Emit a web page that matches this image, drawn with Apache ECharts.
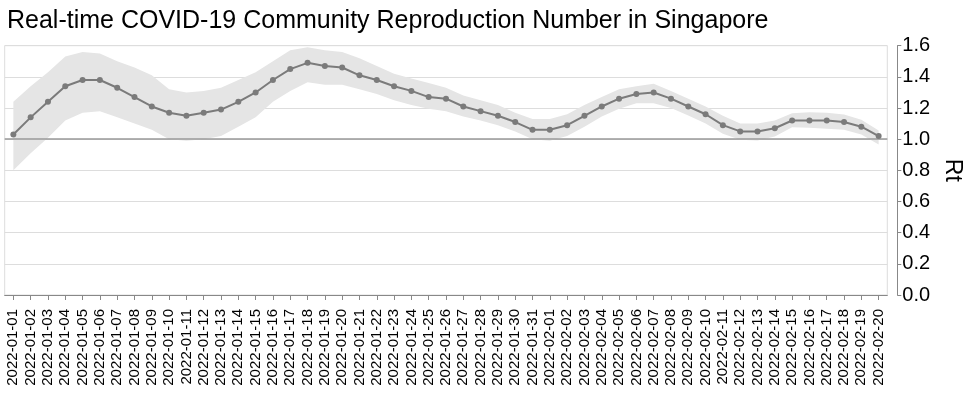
<!DOCTYPE html>
<html>
<head>
<meta charset="utf-8">
<script src="https://cdn.jsdelivr.net/npm/echarts@6/dist/echarts.min.js"></script>
<style>
  html, body { margin: 0; padding: 0; background: #fff; }
  #chart { width: 975px; height: 397px; }
</style>
</head>
<body>
<div id="chart"></div>
<script>
const dates = [
  "2022-01-01", "2022-01-02", "2022-01-03", "2022-01-04", "2022-01-05", "2022-01-06",
  "2022-01-07", "2022-01-08", "2022-01-09", "2022-01-10", "2022-01-11", "2022-01-12",
  "2022-01-13", "2022-01-14", "2022-01-15", "2022-01-16", "2022-01-17", "2022-01-18",
  "2022-01-19", "2022-01-20", "2022-01-21", "2022-01-22", "2022-01-23", "2022-01-24",
  "2022-01-25", "2022-01-26", "2022-01-27", "2022-01-28", "2022-01-29", "2022-01-30",
  "2022-01-31", "2022-02-01", "2022-02-02", "2022-02-03", "2022-02-04", "2022-02-05",
  "2022-02-06", "2022-02-07", "2022-02-08", "2022-02-09", "2022-02-10", "2022-02-11",
  "2022-02-12", "2022-02-13", "2022-02-14", "2022-02-15", "2022-02-16", "2022-02-17",
  "2022-02-18", "2022-02-19", "2022-02-20"
];

// median Rt
const rt = [
  1.03, 1.14, 1.24, 1.34, 1.38, 1.38, 1.33, 1.27, 1.21, 1.17,
  1.15, 1.17, 1.19, 1.24, 1.30, 1.38, 1.45, 1.49, 1.47, 1.46,
  1.41, 1.38, 1.34, 1.31, 1.27, 1.26, 1.21, 1.18, 1.15, 1.11,
  1.06, 1.06, 1.09, 1.15, 1.21, 1.26, 1.29, 1.30, 1.26, 1.21,
  1.16, 1.09, 1.05, 1.05, 1.07, 1.12, 1.12, 1.12, 1.11, 1.08,
  1.02
];

// credible interval
const rtUpper = [
  1.24, 1.34, 1.43, 1.53, 1.56, 1.55, 1.50, 1.46, 1.41, 1.32,
  1.30, 1.31, 1.33, 1.38, 1.43, 1.50, 1.57, 1.59, 1.57, 1.56,
  1.52, 1.47, 1.42, 1.39, 1.36, 1.33, 1.28, 1.25, 1.22, 1.17,
  1.13, 1.13, 1.16, 1.22, 1.27, 1.32, 1.34, 1.355, 1.31, 1.26,
  1.21, 1.15, 1.10, 1.10, 1.12, 1.167, 1.173, 1.169, 1.158, 1.124,
  1.056
];
const rtLower = [
  0.80, 0.91, 1.01, 1.12, 1.17, 1.18, 1.14, 1.10, 1.06, 1.00,
  0.99, 1.00, 1.02, 1.08, 1.14, 1.24, 1.31, 1.365, 1.35, 1.35,
  1.32, 1.29, 1.25, 1.22, 1.195, 1.18, 1.146, 1.12, 1.09, 1.05,
  1.00, 0.99, 1.02, 1.08, 1.146, 1.195, 1.231, 1.231, 1.20, 1.152,
  1.10, 1.035, 0.996, 0.992, 1.017, 1.077, 1.073, 1.067, 1.06, 1.03,
  0.966
];

const yTicks = [0, 0.2, 0.4, 0.6, 0.8, 1.0, 1.2, 1.4, 1.6];

const fontFamily = "'Liberation Sans', Arial, Helvetica, sans-serif";

const initChart = () => {
  const myChart = echarts.init(document.getElementById("chart"));
  const bandWidth = rtUpper.map((u, i) => +(u - rtLower[i]).toFixed(3));

  const option = {
    animation: false,
    textStyle: { fontFamily: fontFamily },
    title: {
      text: "Real-time COVID-19 Community Reproduction Number in Singapore",
      left: 2,
      top: 4,
      textStyle: { fontSize: 25, fontWeight: "normal", color: "#000", fontFamily: fontFamily }
    },
    grid: {
      left: 4.7,
      right: 87.7,
      top: 45.7,
      bottom: 102,
      show: true,
      borderColor: "#dddddd",
      borderWidth: 1
    },
    xAxis: {
      type: "category",
      data: dates,
      boundaryGap: true,
      offset: 10,
      axisLine: { show: true, lineStyle: { color: "#888", width: 1 } },
      axisTick: { show: true, alignWithLabel: true, length: 5, lineStyle: { color: "#888" } },
      axisLabel: { rotate: 90, interval: 0, fontSize: 15, color: "#000", margin: 4 },
      splitLine: { show: false }
    },
    yAxis: {
      type: "value",
      position: "right",
      offset: 10,
      min: yTicks[0],
      max: yTicks[yTicks.length - 1],
      interval: 0.2,
      name: "Rt",
      nameLocation: "middle",
      nameRotate: -90,
      nameGap: 42,
      nameTextStyle: { fontSize: 23, color: "#000" },
      axisLine: { show: true, lineStyle: { color: "#888", width: 1 } },
      axisTick: { show: true, length: 4, lineStyle: { color: "#888" } },
      axisLabel: {
        fontSize: 20,
        color: "#000",
        margin: 5,
        formatter: (v) => v.toFixed(1)
      },
      splitLine: { show: true, lineStyle: { color: "#dddddd", width: 1 } }
    },
    series: [
      {
        name: "lower",
        type: "line",
        data: rtLower,
        stack: "band",
        symbol: "none",
        lineStyle: { opacity: 0 },
        silent: true
      },
      {
        name: "band",
        type: "line",
        data: bandWidth,
        stack: "band",
        symbol: "none",
        lineStyle: { opacity: 0 },
        areaStyle: { color: "#e5e5e5", opacity: 1 },
        silent: true
      },
      {
        name: "Rt",
        type: "line",
        data: rt,
        symbol: "circle",
        symbolSize: 6,
        itemStyle: { color: "#7b7b7b" },
        lineStyle: { color: "#7b7b7b", width: 2 },
        markLine: {
          silent: true,
          symbol: "none",
          label: { show: false },
          lineStyle: { color: "#999", type: "solid", width: 1.5 },
          data: [{ yAxis: 1.0 }]
        },
        z: 5
      }
    ]
  };

  myChart.setOption(option);
  myChart.resize();
};

window.addEventListener("load", () => {
  initChart();
});
</script>
</body>
</html>
